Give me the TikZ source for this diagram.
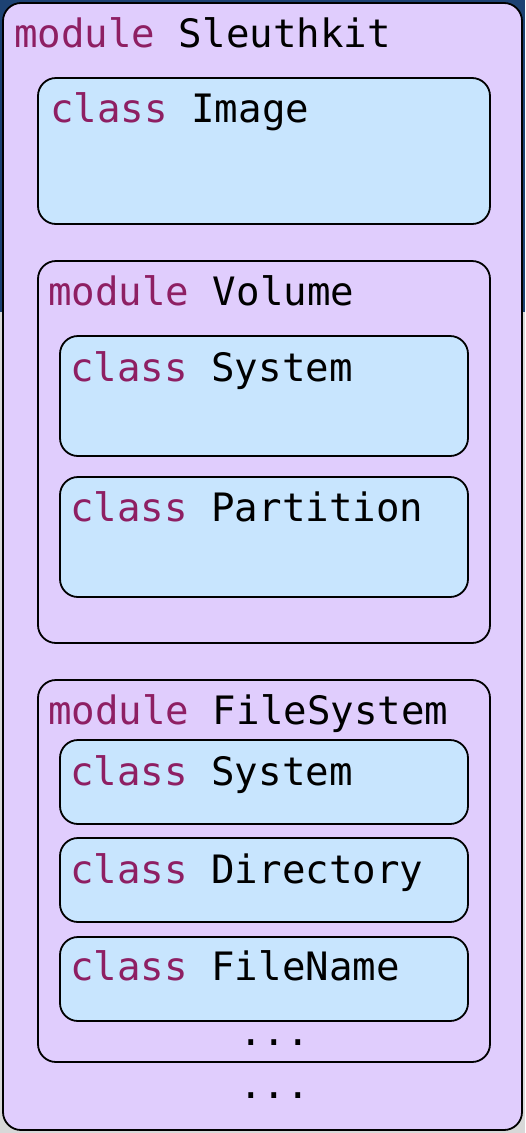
\documentclass[tikz,border=0pt]{standalone}
\usepackage{fontspec}
\setmonofont{DejaVu Sans Mono}
\definecolor{kwcol}{HTML}{8E1F63}
\definecolor{modfill}{HTML}{E0CDFD}
\definecolor{clsfill}{HTML}{C8E5FE}
\definecolor{bgblue}{HTML}{1D4273}
\definecolor{bggrey}{HTML}{D8D8D8}
\begin{document}
\begin{tikzpicture}[x=1pt,y=-1pt,
  modbox/.style={draw=black,line width=1.8pt,fill=modfill,rounded corners=18pt},
  clsbox/.style={draw=black,line width=1.8pt,fill=clsfill,rounded corners=18pt},
  lbl/.style={anchor=base west,inner sep=0pt,font=\ttfamily\fontsize{39.1}{40}\selectfont},
  kw/.style={text=kwcol}]
\useasboundingbox (0,0) rectangle (525,1133);
\fill[bggrey] (0,0) rectangle (525,1133);
\fill[bgblue] (0,0) rectangle (525,312);
% outer module
\draw[modbox] (3,3) rectangle (522,1130);
\node[lbl] (tSleuth) at (14,47) {\textcolor{kwcol}{module} Sleuthkit};
% class Image
\draw[clsbox] (38,78) rectangle (490,224);
\node[lbl] (tImage) at (50,122) {\textcolor{kwcol}{class} Image};
% module Volume
\draw[modbox] (38,261) rectangle (490,643);
\node[lbl] (tVolume) at (48,305) {\textcolor{kwcol}{module} Volume};
\draw[clsbox] (60,336) rectangle (468,456);
\node[lbl] (tVSys) at (70,381) {\textcolor{kwcol}{class} System};
\draw[clsbox] (60,477) rectangle (468,597);
\node[lbl] (tPart) at (70,521) {\textcolor{kwcol}{class} Partition};
% module FileSystem
\draw[modbox] (38,680) rectangle (490,1062);
\node[lbl] (tFS) at (48,724) {\textcolor{kwcol}{module} FileSystem};
\draw[clsbox] (60,740) rectangle (468,824);
\node[lbl] (tFSys) at (70,785) {\textcolor{kwcol}{class} System};
\draw[clsbox] (60,838) rectangle (468,922);
\node[lbl] (tDir) at (70,883) {\textcolor{kwcol}{class} Directory};
\draw[clsbox] (60,937) rectangle (468,1021);
\node[lbl] (tFN) at (70,980) {\textcolor{kwcol}{class} FileName};
\node[lbl] (dots1) at (239,1045) {...};
\node[lbl] (dots2) at (239,1098) {...};
\end{tikzpicture}
\end{document}
